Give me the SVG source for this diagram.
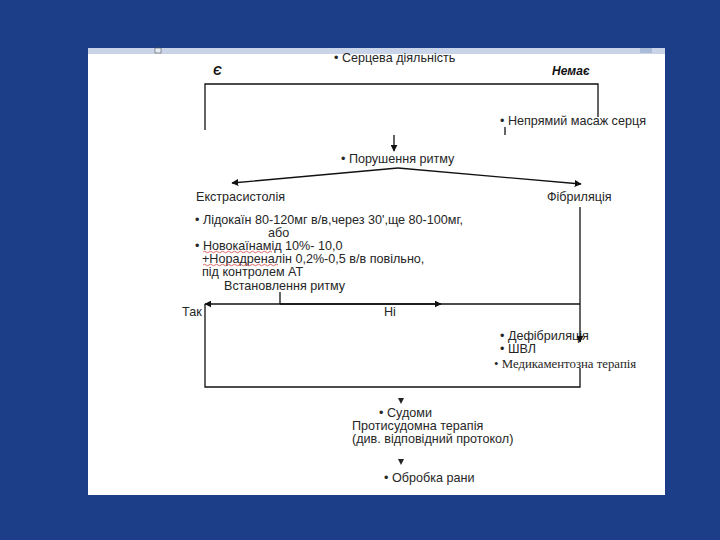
<svg xmlns="http://www.w3.org/2000/svg" width="720" height="540" viewBox="0 0 720 540">
<defs>
<style>
text{font-family:"Liberation Sans",Arial,sans-serif;font-size:12.6px;fill:#262626}
.bi{font-weight:bold;font-style:italic;font-size:12px;fill:#111}
.ser{font-family:"Liberation Serif","Times New Roman",serif;font-size:12.8px}
.ln{stroke:#111;stroke-width:1.3;fill:none}
.wavy{stroke:#d04040;stroke-width:0.8;fill:none}
</style>
<marker id="ah" viewBox="0 0 10 10" refX="9" refY="5" markerWidth="7" markerHeight="7" markerUnits="userSpaceOnUse" orient="auto">
<path d="M0,0 L10,5 L0,10 z" fill="#111"/>
</marker>
</defs>
<rect x="0" y="0" width="720" height="540" fill="#1c3d87"/>
<rect x="88" y="48" width="577" height="447" fill="#ffffff"/>
<g id="ruler">
<rect x="88" y="48" width="577" height="6" fill="#c9d4e8"/>
<rect x="155" y="48" width="6" height="5" fill="#e6ecf6" stroke="#555" stroke-width="0.6"/>
<rect x="640" y="48" width="12" height="5" fill="#aabbd8"/>
</g>
<g id="n-heart"><text x="334" y="62">• Серцева діяльність</text></g>
<g id="n-yes"><text class="bi" x="213" y="75">Є</text></g>
<g id="n-no"><text class="bi" x="552" y="75">Немає</text></g>
<g id="n-massage"><text x="500" y="125">• Непрямий масаж серця</text></g>
<g id="n-rhythm"><text x="341" y="163">• Порушення ритму</text></g>
<g id="n-extra"><text x="196" y="201">Екстрасистолія</text></g>
<g id="n-fib"><text x="547" y="201">Фібриляція</text></g>
<g id="n-treat">
<text x="195" y="224">• Лідокаїн 80-120мг в/в,через 30',ще 80-100мг,</text>
<text x="268" y="237">або</text>
<text x="195" y="250">• Новокаїнамід 10%- 10,0</text>
<text x="202" y="263">+Норадреналін  0,2%-0,5 в/в повільно,</text>
<text x="202" y="276">під контролем АТ</text>
<path class="wavy" d="M203,252 q1.5,-1.5 3,0 t3,0 t3,0 t3,0 t3,0 t3,0 t3,0 t3,0 t3,0 t3,0 t3,0 t3,0 t3,0 t3,0 t3,0 t3,0 t3,0 t3,0 t3,0 t3,0 t3,0 t3,0 t3,0"/>
<path class="wavy" d="M203,265 q1.5,-1.5 3,0 t3,0 t3,0 t3,0 t3,0 t3,0 t3,0 t3,0 t3,0 t3,0 t3,0 t3,0 t3,0 t3,0 t3,0 t3,0 t3,0 t3,0 t3,0 t3,0 t3,0 t3,0 t3,0 t3,0 t3,0"/>
</g>
<g id="n-restored"><text x="224" y="290">Встановлення ритму</text></g>
<g id="n-tak"><text x="182" y="316">Так</text></g>
<g id="n-ni"><text x="384" y="316">Ні</text></g>
<g id="n-defib">
<text x="500" y="340">• Дефібриляція</text>
<text x="500" y="353">• ШВЛ</text>
<text class="ser" x="494" y="368">• Медикаментозна терапія</text>
</g>
<g id="n-seizure">
<text x="379" y="417">• Судоми</text>
<text x="352" y="430">Протисудомна терапія</text>
<text x="352" y="443">(див. відповідний протокол)</text>
</g>
<g id="n-wound"><text x="384" y="482">• Обробка рани</text></g>
<g id="connectors">
<path class="ln" d="M205,130 V84 H598 V117"/>
<path class="ln" d="M505,127 V135" stroke-width="1"/>
<path class="ln" d="M394,135 V151" marker-end="url(#ah)"/>
<path class="ln" d="M398,168 L232,183" marker-end="url(#ah)"/>
<path class="ln" d="M398,168 L581,184" marker-end="url(#ah)"/>
<path class="ln" d="M580,207 V342" marker-end="url(#ah)"/>
<path class="ln" d="M580,368 V387 H205 V304"/>
<path class="ln" d="M280,292 V304"/>
<path class="ln" d="M580,304 H205" marker-end="url(#ah)"/>
<path class="ln" d="M280,304 H441" marker-end="url(#ah)"/>
<path d="M398,398 L404,398 L401,404 z" fill="#222"/>
<path d="M398,459 L404,459 L401,465 z" fill="#222"/>
</g>
</svg>
